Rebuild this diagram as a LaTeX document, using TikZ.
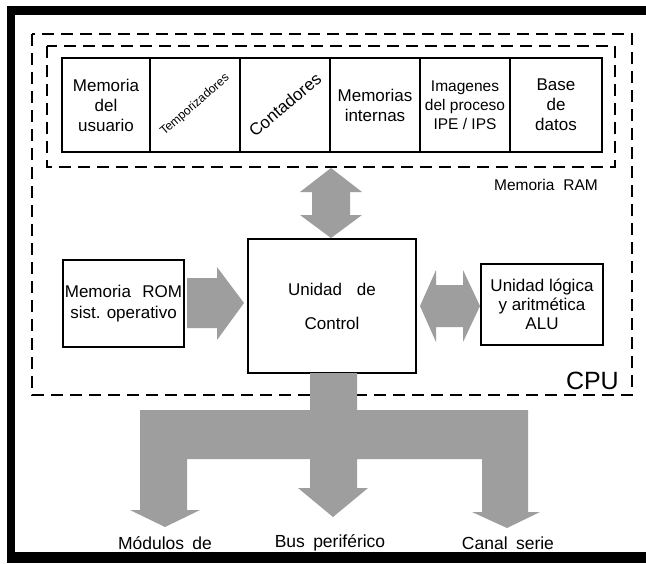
\documentclass[tikz,border=0pt]{standalone}
\usepackage{fontspec}
\setmainfont{Liberation Sans}
\definecolor{arrowgray}{RGB}{158,158,158}
\begin{document}
\begin{tikzpicture}[x=1pt,y=-1pt,
  box/.style={draw, line width=1.3pt, inner sep=0pt, align=center, font=\fontsize{17}{20}\selectfont},
  dashbox/.style={line width=1.2pt, dash pattern=on 12pt off 7pt},
  grayarrow/.style={fill=arrowgray, draw=none},
  lbl/.style={inner sep=0pt, align=center, font=\fontsize{17.5}{20}\selectfont}]
\useasboundingbox (0,0) rectangle (646,563);
\fill[white] (0,0) rectangle (646,563);
% black frame
\fill[black] (7,6) rectangle (646,15);
\fill[black] (7,6) rectangle (15,563);
\fill[black] (7,552) rectangle (646,563);
% dashed regions
\draw[dashbox] (32,34) rectangle (632,395);
\draw[dashbox] (47,46) rectangle (615,167);
% RAM boxes
\node[box, minimum width=88pt, minimum height=94pt] (b1) at (106,105) {Memoria\\del\\usuario};
\node[box, minimum width=90pt, minimum height=94pt, font=\fontsize{12.2}{14}\selectfont] (b2) at (195,105) {\rotatebox{41}{Temporizadores}};
\node[box, minimum width=90pt, minimum height=94pt, font=\fontsize{17}{20}\selectfont] (b3) at (285,105) {\rotatebox{40}{Contadores}};
\node[box, minimum width=90pt, minimum height=94pt] (b4) at (375,105) {Memorias\\internas};
\node[box, minimum width=90pt, minimum height=94pt, font=\fontsize{15.5}{19}\selectfont] (b5) at (465,105) {Imagenes\\del proceso\\IPE / IPS};
\node[box, minimum width=92pt, minimum height=94pt] (b6) at (556,105) {Base\\de\\datos};
\node[lbl, anchor=east, font=\fontsize{15.5}{18}\selectfont] (ram) at (598,185) {Memoria\hspace{0.3em} RAM};
\node[lbl, anchor=east, font=\fontsize{25}{25}\selectfont] (cpu) at (619,381) {CPU};
% CPU units
\node[box, minimum width=168pt, minimum height=134pt, font=\fontsize{17}{34}\selectfont] (ctrl) at (332,306) {Unidad\hspace{0.6em} de\\Control};
\node[box, minimum width=121pt, minimum height=87pt, font=\fontsize{17}{21}\selectfont] (rom) at (123.5,303.5) {Memoria\hspace{0.4em} ROM\\sist. operativo};
\node[box, minimum width=122pt, minimum height=81pt, font=\fontsize{17}{19}\selectfont] (alu) at (542,304.5) {Unidad lógica\\y aritmética\\ALU};
% block arrows
\fill[grayarrow] (331,168) -- (362,192) -- (350,192) -- (350,215) -- (362,215) -- (331,238)
  -- (300,215) -- (312,215) -- (312,192) -- (300,192) -- cycle;
\fill[grayarrow] (187,278) -- (217,278) -- (217,267) -- (244,303) -- (217,340) -- (217,328) -- (187,328) -- cycle;
\fill[grayarrow] (420,306) -- (436,270) -- (436,285) -- (463,285) -- (463,270) -- (480,306)
  -- (463,342) -- (463,327) -- (436,327) -- (436,342) -- cycle;
\fill[grayarrow] (310,373) -- (357,373) -- (357,410) -- (528,410) -- (528,512) -- (540,512)
  -- (507,528) -- (472,512) -- (482,512) -- (482,459) -- (357,459) -- (357,488) -- (368,488)
  -- (333,517) -- (298,488) -- (310,488) -- (310,459) -- (187,459) -- (187,510) -- (200,510)
  -- (165,527) -- (130,510) -- (140,510) -- (140,410) -- (310,410) -- cycle;
% bottom labels
\node[lbl] (mod) at (165,543) {Módulos\hspace{0.2em} de};
\node[lbl] (bus) at (330,543) {Bus\hspace{0.2em} periférico};
\node[lbl] (can) at (508,543) {Canal\hspace{0.2em} serie};
\end{tikzpicture}
\end{document}
